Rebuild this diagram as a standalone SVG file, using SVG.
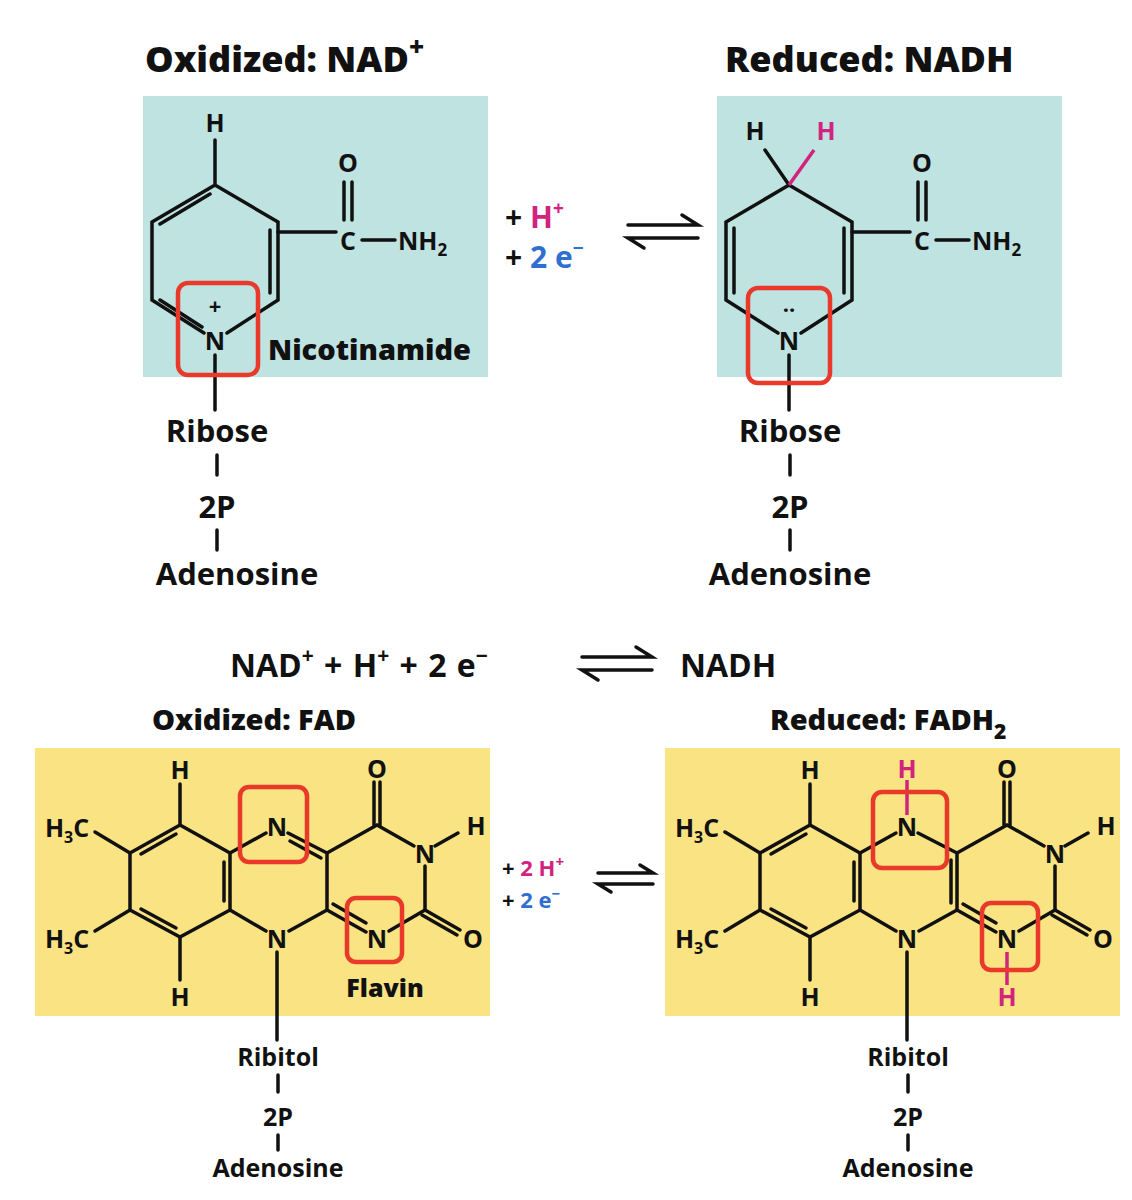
<svg xmlns="http://www.w3.org/2000/svg" width="1132" height="1200" viewBox="0 0 1132 1200">
<style>
text{font-family:"Open Sans","Liberation Sans",sans-serif;font-weight:700;fill:#111}
.t{font-size:36px;font-weight:800}
.a{font-size:25px;text-anchor:middle}
.s{font-size:22px;text-anchor:middle}
.r{font-size:31px;text-anchor:middle}
.l{text-anchor:start}
.b{stroke:#111;stroke-width:3.5;fill:none;stroke-linecap:round}
.p{stroke:#d2237f;stroke-width:3.5;fill:none}
.box{fill:none;stroke:#e8392a;stroke-width:4.5}
.pk{fill:#d2237f}.bl{fill:#2f6fd0}
</style>
<defs>
<g id="eq" class="b"><path d="M0,0H70l-16,-10"/><path d="M70,13H0l16,10"/></g>
<g id="eqs" class="b"><path d="M0,0H55l-13,-8"/><path d="M55,11H0l13,8"/></g>
<g id="flav">
<rect x="35" y="748" width="455" height="268" fill="#f9e383"/>
<g class="b">
<path d="M180,825L130,853L130,910L180,937L230,910L230,853Z"/>
<path d="M176,834L141,854M141,909L176,928M224,862V901"/>
<path d="M130,853L95,832M130,910L95,931M180,825V784M180,937V980"/>
<path d="M230,910L266,931M327,910L289,931M277,952V1040"/>
<path d="M327,853L377,825L414,846M425,866V910L389,931"/>
<path d="M374,825V782M380,825V782M435,846L458,833"/>
<path d="M425,910L460,930M422,915L457,935"/>
</g>
<text class="a" x="377" y="778">O</text>
<text class="a" x="476" y="835">H</text>
<text class="a" x="425" y="863">N</text>
<text class="a" x="473" y="948">O</text>
<text class="a" x="277" y="948">N</text>
<text class="a" x="180" y="779">H</text>
<text class="a" x="180" y="1006">H</text>
<text class="a" x="67" y="837">H<tspan style="font-size:16px" dy="6">3</tspan><tspan dy="-6">C</tspan></text>
<text class="a" x="67" y="948">H<tspan style="font-size:16px" dy="6">3</tspan><tspan dy="-6">C</tspan></text>
<text class="a" x="278" y="1066">Ribitol</text>
<path class="b" d="M278,1075V1092M278,1135V1150"/>
<text class="a" x="278" y="1126">2P</text>
<text class="a" x="278" y="1177">Adenosine</text>
</g>
</defs>
<rect width="1132" height="1200" fill="#fff"/>

<g id="nad">
<text class="t" x="145" y="72">Oxidized: NAD<tspan style="font-size:26px" dy="-16">+</tspan></text>
<rect x="143" y="96" width="345" height="281" fill="#bfe3e1"/>
<g class="b">
<path d="M215,140V185M215,185L152,222V300L204,333M227,333L278,300V222L215,185"/>
<path d="M210,194L160,224M160,300L202,327M270,230V293"/>
<path d="M278,232H336M362,240H395M344,182V220M352,182V220M215,355V410"/>
</g>
<text class="a" x="215" y="132">H</text>
<text class="a" x="348" y="172">O</text>
<text class="a" x="348" y="250">C</text>
<text class="a l" x="398" y="250">NH<tspan style="font-size:17px" dy="6">2</tspan></text>
<text class="s" x="215" y="314">+</text>
<text class="a" x="215" y="350">N</text>
<rect class="box" x="178" y="283" width="80" height="92" rx="10"/>
<text class="a l" x="268" y="360" style="font-size:29px;font-weight:800">Nicotinamide</text>
<text class="r" x="217" y="442">Ribose</text>
<path class="b" d="M217,455V475M217,530V550"/>
<text class="r" x="217" y="518">2P</text>
<text class="r" x="237" y="585">Adenosine</text>
</g>

<g id="nadh">
<text class="t" x="725" y="72">Reduced: NADH</text>
<rect x="717" y="96" width="345" height="281" fill="#bfe3e1"/>
<g class="b">
<path d="M789,185L726,222V300L778,333M801,333L852,300V222L789,185M789,185L765,150"/>
<path d="M734,228V293M844,228V293"/>
<path d="M852,232H910M936,240H969M918,182V220M926,182V220M789,355V410"/>
</g>
<path class="p" d="M789,185L814,150"/>
<text class="a" x="755" y="140">H</text>
<text class="a pk" x="826" y="140">H</text>
<text class="a" x="922" y="172">O</text>
<text class="a" x="922" y="250">C</text>
<text class="a l" x="972" y="250">NH<tspan style="font-size:17px" dy="6">2</tspan></text>
<text class="s" x="789" y="318">··</text>
<text class="a" x="789" y="350">N</text>
<rect class="box" x="748" y="288" width="82" height="95" rx="10"/>
<text class="r" x="790" y="442">Ribose</text>
<path class="b" d="M790,455V475M790,530V550"/>
<text class="r" x="790" y="518">2P</text>
<text class="r" x="790" y="585">Adenosine</text>
</g>

<g id="nadmid">
<text class="a l" x="505" y="228" style="font-size:30px">+ <tspan class="pk">H<tspan style="font-size:19px" dy="-13">+</tspan></tspan></text>
<text class="a l" x="505" y="268" style="font-size:30px">+ <tspan class="bl">2 e<tspan style="font-size:19px" dy="-13">−</tspan></tspan></text>
<use href="#eq" x="628" y="225"/>
</g>

<g id="equation">
<text class="a l" x="230" y="677" style="font-size:32px;font-weight:700;word-spacing:2px">NAD<tspan style="font-size:21px" dy="-14">+</tspan><tspan dy="14"> + H</tspan><tspan style="font-size:21px" dy="-14">+</tspan><tspan dy="14"> + 2 e</tspan><tspan style="font-size:21px" dy="-14">−</tspan></text>
<use href="#eq" x="582" y="657"/>
<text class="a l" x="680" y="677" style="font-size:32px;font-weight:700">NADH</text>
</g>

<g id="fad">
<text class="t" x="152" y="730" style="font-size:29px">Oxidized: FAD</text>
<use href="#flav"/>
<g class="b">
<path d="M230,853L266,833M288,833L327,853L327,910L366,932"/>
<path d="M290,841L321,858M333,904L366,923"/>
</g>
<text class="a" x="277" y="836">N</text>
<text class="a" x="377" y="948">N</text>
<rect class="box" x="240" y="787" width="67" height="75" rx="9"/>
<rect class="box" x="347" y="898" width="55" height="64" rx="9"/>
<text class="a" x="385" y="997" style="font-size:25px;font-weight:800">Flavin</text>
</g>

<g id="fadmid">
<text class="s l" x="502" y="876" style="font-size:22px">+ <tspan class="pk">2 H<tspan style="font-size:15px" dy="-9">+</tspan></tspan></text>
<text class="s l" x="502" y="908" style="font-size:22px">+ <tspan class="bl">2 e<tspan style="font-size:15px" dy="-9">−</tspan></tspan></text>
<use href="#eqs" x="598" y="873"/>
</g>

<g id="fadh2">
<text class="t" x="770" y="730" style="font-size:29px">Reduced: FADH<tspan style="font-size:21px" dy="9">2</tspan></text>
<use href="#flav" x="630"/>
<g class="b">
<path d="M860,853L896,833M918,833L957,853L957,910L996,932"/>
<path d="M951,860V903M963,904L996,923"/>
</g>
<path class="p" d="M907,780V815M1007,952V985"/>
<text class="a pk" x="907" y="778">H</text>
<text class="a pk" x="1007" y="1006">H</text>
<text class="a" x="907" y="836">N</text>
<text class="a" x="1007" y="948">N</text>
<rect class="box" x="873" y="792" width="74" height="76" rx="9"/>
<rect class="box" x="982" y="903" width="56" height="67" rx="9"/>
</g>
</svg>
